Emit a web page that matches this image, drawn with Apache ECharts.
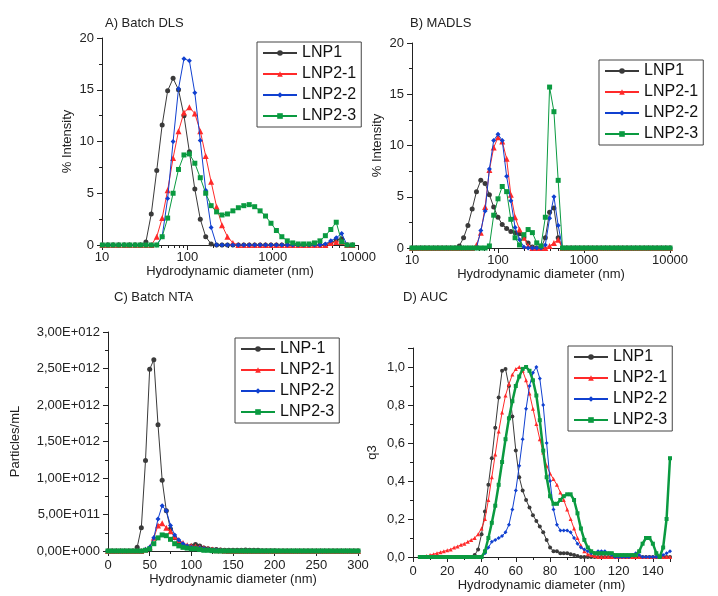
<!DOCTYPE html>
<html><head><meta charset="utf-8">
<script src="https://cdn.jsdelivr.net/npm/echarts@6/dist/echarts.min.js"></script>
<style>html,body{margin:0;padding:0;background:#fff}#c{width:718px;height:596px}</style>
</head><body><div id="c"></div>
<script>
// ---- Panel A: Batch DLS ----
const dlsX = [10.1,11.7,13.5,15.7,18.2,21.0,24.4,28.2,32.7,37.8,43.8,50.7,58.8,68.1,78.8,91.3,105.7,122.4,141.8,164.2,190.1,220.2,255,295.3,342,396.1,458.7,531.2,615.1,712.4,825,955.4,1106,1281,1484,1718,1990,2305,2669,3091,3580,4145,4801,5560,6439,7456,8635];
const dlsLNP1 = [0,0,0,0,0,0,0,0,0.3,3.0,7.2,11.6,14.9,16.1,15.0,12.5,9.0,5.4,2.5,0.8,0.1,0,0,0,0,0,0,0,0,0,0,0,0,0,0,0,0,0,0,0,0,0,0.2,0.5,0.6,0,0];
const dlsLNP21 = [0,0,0,0,0,0,0,0,0,0,0.8,2.6,5.3,8.4,11.0,12.8,13.3,12.7,11.0,8.6,6.1,3.7,1.9,0.8,0.2,0,0,0,0,0,0,0,0,0,0,0,0,0,0,0,0,0,0.2,0.3,0.3,0,0];
const dlsLNP22 = [0,0,0,0,0,0,0,0,0,0,0,0.8,4.5,10.0,15.1,18.0,17.8,14.7,10.1,5.3,1.7,0,0,0,0,0,0,0,0,0,0,0,0,0,0,0,0,0,0,0,0,0.1,0.4,0.7,1.1,0,0];
const dlsLNP23 = [0,0,0,0,0,0,0,0,0,0,0,0.8,2.6,5.0,7.3,8.7,8.8,7.9,6.5,5.0,3.8,3.2,2.9,3.0,3.3,3.6,3.8,3.9,3.7,3.3,2.8,2.1,1.4,0.8,0.4,0.2,0.1,0.1,0.1,0.2,0.4,0.9,1.5,2.2,0.3,0,0];
// ---- Panel B: MADLS ----
const madX = [10,11.2,12.6,14.1,15.8,17.8,20,22.4,25.1,28.2,31.6,35.5,39.8,44.7,50.1,56.2,63.1,70.8,79.4,89.1,100,112,126,141,158,178,200,224,251,282,316,355,398,447,501,562,631,708,794,891,1000,1122,1259,1413,1585,1778,1995,2239,2512,2818,3162,3548,3981,4467,5012,5623,6310,7079,7943,8913,10000];
const madLNP1 = [0,0,0,0,0,0,0,0,0,0,0,0.2,1.0,2.2,3.8,5.5,6.6,6.3,5.2,4.0,3.0,2.3,1.9,1.6,1.5,1.4,1.0,0.5,0.1,0,0,1.0,3.5,3.9,1.0,0,0,0,0,0,0,0,0,0,0,0,0,0,0,0,0,0,0,0,0,0,0,0,0,0,0];
const madLNP21 = [0,0,0,0,0,0,0,0,0,0,0,0,0,0,0,0.3,1.5,4.0,7.6,9.8,10.8,10.4,8.7,5.2,3.0,1.8,1.0,0.2,0,0,0,0,0.2,0.5,0.8,0,0,0,0,0,0,0,0,0,0,0,0,0,0,0,0,0,0,0,0,0,0,0,0,0,0];
const madLNP22 = [0,0,0,0,0,0,0,0,0,0,0,0,0,0,0,0,1.7,3.6,7.7,10.5,11.1,10.5,7.0,4.6,2.0,0.8,0.1,0,0,0,0,0.3,2.9,5.0,2.2,0,0,0,0,0,0,0,0,0,0,0,0,0,0,0,0,0,0,0,0,0,0,0,0,0,0];
const madLNP23 = [0,0,0,0,0,0,0,0,0,0,0,0,0,0,0,0,0,0,0.2,3.2,4.8,6.0,5.5,2.8,1.0,0.3,1.3,1.8,1.5,0.5,0.2,3.0,15.7,13.3,6.6,0,0,0,0,0,0,0,0,0,0,0,0,0,0,0,0,0,0,0,0,0,0,0,0,0,0];
// ---- Panel C: Batch NTA (particles/mL, in units of 1E+012) ----
const ntaX = [0,5,10,15,20,25,30,35,40,45,50,55,60,65,70,75,80,85,90,95,100,105,110,115,120,125,130,135,140,145,150,155,160,165,170,175,180,185,190,195,200,205,210,215,220,225,230,235,240,245,250,255,260,265,270,275,280,285,290,295,300];
const ntaLNP1 = [0,0,0,0,0,0,0,0.05,0.32,1.24,2.49,2.62,1.73,0.97,0.55,0.3,0.18,0.12,0.08,0.06,0.07,0.09,0.07,0.04,0.03,0.02,0.02,0.015,0.01,0.01,0.01,0.01,0.01,0.015,0.01,0.01,0.01,0.005,0.005,0.005,0.005,0,0,0,0,0,0,0,0,0,0,0,0,0,0,0,0,0,0,0,0];
const ntaLNP21 = [0,0,0,0,0,0,0,0,0,0.02,0.05,0.18,0.35,0.38,0.32,0.27,0.2,0.15,0.11,0.08,0.07,0.06,0.05,0.04,0.03,0.02,0.01,0.01,0.005,0,0,0,0,0,0,0,0,0,0,0,0,0,0,0,0,0,0,0,0,0,0,0,0,0,0,0,0,0,0,0,0];
const ntaLNP22 = [0,0,0,0,0,0,0,0,0,0.02,0.05,0.18,0.44,0.62,0.55,0.35,0.22,0.15,0.1,0.07,0.05,0.04,0.04,0.03,0.02,0.01,0.01,0.005,0,0,0,0,0,0,0,0,0,0,0,0,0,0,0,0,0,0,0,0,0,0,0,0,0,0,0,0,0,0,0,0,0];
const ntaLNP23 = [0,0,0,0,0,0,0,0,0,0.01,0.03,0.1,0.18,0.22,0.21,0.16,0.1,0.07,0.05,0.04,0.03,0.03,0.02,0.01,0.01,0.005,0,0,0,0,0,0,0,0,0,0,0,0,0,0,0,0,0,0,0,0,0,0,0,0,0,0,0,0,0,0,0,0,0,0,0];
// ---- Panel D: AUC ----
const aucX = [4,6,8,10,12,14,16,18,20,22,24,26,28,30,32,34,36,38,40,42,44,46,48,50,52,54,56,58,60,62,64,66,68,70,72,74,76,78,80,82,84,86,88,90,92,94,96,98,100,102,104,106,108,110,112,114,116,118,120,122,124,126,128,130,132,134,136,138,140,142,144,146,148,150];
const aucLNP1 = [0,0,0,0,0,0,0,0,0,0,0,0,0,0,0,0,0.01,0.04,0.12,0.24,0.38,0.52,0.68,0.84,0.98,0.99,0.9,0.74,0.56,0.42,0.35,0.3,0.26,0.22,0.19,0.16,0.13,0.09,0.05,0.03,0.03,0.02,0.02,0.02,0.015,0.01,0.005,0,0,0,0,0,0,0,0,0,0,0,0,0,0,0,0,0,0,0,0,0,0,0,0,0,0,0];
const aucLNP21 = [0,0,0.005,0.01,0.015,0.02,0.025,0.03,0.035,0.04,0.05,0.055,0.065,0.07,0.08,0.09,0.1,0.12,0.15,0.2,0.3,0.42,0.54,0.66,0.76,0.85,0.91,0.96,0.99,1.0,0.98,0.93,0.86,0.78,0.7,0.62,0.55,0.48,0.44,0.41,0.38,0.34,0.3,0.25,0.2,0.15,0.1,0.06,0.03,0.015,0.01,0.005,0,0,0,0,0,0,0,0,0,0,0,0,0,0,0,0,0,0,0,0,0,0];
const aucLNP22 = [0,0,0,0,0,0,0,0,0,0,0,0,0,0,0,0,0,0,0,0.02,0.05,0.08,0.09,0.1,0.11,0.13,0.17,0.25,0.35,0.48,0.62,0.78,0.9,0.97,1.0,0.94,0.8,0.6,0.4,0.25,0.17,0.14,0.14,0.14,0.13,0.1,0.07,0.05,0.04,0.03,0.02,0.02,0.03,0.03,0.03,0.02,0.01,0,0,0,0,0,0.01,0.02,0.01,0,0,0,0,0,0,0.01,0.02,0.03];
const aucLNP23 = [0,0,0,0,0,0,0,0,0,0,0,0,0,0,0,0,0,0,0,0.03,0.1,0.18,0.27,0.38,0.5,0.62,0.73,0.82,0.9,0.95,0.99,1.0,0.98,0.93,0.85,0.72,0.56,0.42,0.32,0.28,0.28,0.3,0.32,0.33,0.33,0.3,0.23,0.15,0.09,0.05,0.03,0.02,0.02,0.02,0.02,0.02,0.02,0.01,0.01,0.01,0.01,0.01,0.01,0.01,0.03,0.07,0.1,0.1,0.07,0.02,0,0.05,0.2,0.52];

const names1 = ['LNP1','LNP2-1','LNP2-2','LNP2-3'];
const namesC = ['LNP-1','LNP2-1','LNP2-2','LNP2-3'];
const colors = ['#3a3a3a','#ff2a2a','#1040d0','#0a9a40'];
const symbols = ['circle','triangle','diamond','rect'];
const FONT = 'Liberation Sans, Arial, sans-serif';

function zip(xs, ys){ return xs.map((x,i)=>[x, ys[i]]); }
function mk(name, i, xs, ys, g, opts){
  return Object.assign({
    name, type:'line', xAxisIndex:g, yAxisIndex:g, data:zip(xs,ys),
    symbol:symbols[i], symbolSize: i===1?6:5, color:colors[i],
    lineStyle:{width:1, color:colors[i]}, itemStyle:{color:colors[i]},
    animation:false, z: 2+i
  }, opts||{});
}
const axisLine = {show:true, lineStyle:{color:'#222', width:1}};
const lbl = {color:'#222', fontSize:13, fontFamily:FONT};
const nameStyle = {color:'#222', fontSize:13, fontFamily:FONT};
function commaNum(v, d){ return v.toFixed(d).replace('.', ','); }
function sciLabel(v){
  const real = v*1e12;
  if (real === 0) return '0,00E+000';
  const e = Math.floor(Math.log10(real)+1e-9);
  const m = real/Math.pow(10,e);
  return commaNum(m,2)+'E+'+String(e).padStart(3,'0');
}
function xLog(g){ return {type:'log', logBase:10, gridIndex:g, min:10, max:10000,
  axisLine, axisTick:{show:true, length:5, lineStyle:{color:'#222'}}, minorTick:{show:true, splitNumber:9, length:3, lineStyle:{color:'#222'}},
  splitLine:{show:false}, axisLabel:Object.assign({margin:6, formatter:v=>String(Math.round(v))},lbl),
  name:'Hydrodynamic diameter (nm)', nameLocation:'middle', nameGap:20, nameTextStyle:nameStyle}; }
function yPct(g){ return {type:'value', gridIndex:g, min:0, max:20, interval:5,
  axisLine, axisTick:{show:true, length:5, lineStyle:{color:'#222'}}, minorTick:{show:true, splitNumber:2, length:3, lineStyle:{color:'#222'}},
  splitLine:{show:false}, axisLabel:lbl,
  name:'% Intensity', nameLocation:'middle', nameGap:28, nameTextStyle:nameStyle}; }
function legendAt(g, left, top, data){
  return {data, left, top, orient:'vertical', itemWidth:34, itemHeight:7, itemGap:5,
    borderColor:'#444', borderWidth:1, padding:[3,5,3,5], borderRadius:0,
    textStyle:{fontSize:16, fontFamily:FONT, color:'#111', padding:[0,0,0,0]}, selectedMode:false};
}

const series = [];
[dlsLNP1,dlsLNP21,dlsLNP22,dlsLNP23].forEach((ys,i)=>series.push(mk(names1[i],i,dlsX,ys,0)));
[madLNP1,madLNP21,madLNP22,madLNP23].forEach((ys,i)=>series.push(mk(names1[i],i,madX,ys,1)));
[ntaLNP1,ntaLNP21,ntaLNP22,ntaLNP23].forEach((ys,i)=>series.push(mk(namesC[i],i,ntaX,ys,2)));
[aucLNP1,aucLNP21,aucLNP22,aucLNP23].forEach((ys,i)=>series.push(mk(names1[i],i,aucX,ys,3,
  i===3?{lineStyle:{width:2.5,color:colors[3]}, symbolSize:4}:{symbolSize:4})));

const chart = echarts.init(document.getElementById('c'), null, {renderer:'canvas'});
chart.setOption({
  backgroundColor:'#fff',
  textStyle:{fontFamily:FONT},
  title:[
    {text:'A) Batch DLS', left:100, top:12, textStyle:{fontSize:13, fontWeight:'normal', fontFamily:FONT, color:'#222'}},
    {text:'B) MADLS', left:405, top:12, textStyle:{fontSize:13, fontWeight:'normal', fontFamily:FONT, color:'#222'}},
    {text:'C) Batch NTA', left:109, top:286, textStyle:{fontSize:13, fontWeight:'normal', fontFamily:FONT, color:'#222'}},
    {text:'D) AUC', left:398, top:286, textStyle:{fontSize:13, fontWeight:'normal', fontFamily:FONT, color:'#222'}}
  ],
  grid:[
    {left:102, top:38, width:256, height:207},
    {left:412, top:43, width:258, height:205},
    {left:108, top:332, width:250, height:219},
    {left:413, top:348, width:257, height:209}
  ],
  legend:[
    legendAt(0, 257, 42, names1),
    legendAt(1, 599, 60, names1),
    legendAt(2, 235, 338, namesC),
    legendAt(3, 568, 346, names1)
  ],
  xAxis:[ xLog(0), xLog(1),
    {type:'value', gridIndex:2, min:0, max:300, interval:50, axisLine, axisTick:{show:true,length:5,lineStyle:{color:'#222'}},
     minorTick:{show:true, splitNumber:2, length:3, lineStyle:{color:'#222'}},
     splitLine:{show:false}, axisLabel:lbl, name:'Hydrodynamic diameter (nm)', nameLocation:'middle', nameGap:20, nameTextStyle:nameStyle},
    {type:'value', gridIndex:3, min:0, max:150, interval:20, axisLine, axisTick:{show:true,length:5,lineStyle:{color:'#222'}},
     minorTick:{show:true, splitNumber:2, length:3, lineStyle:{color:'#222'}},
     splitLine:{show:false}, axisLabel:Object.assign({showMaxLabel:false},lbl), name:'Hydrodynamic diameter (nm)', nameLocation:'middle', nameGap:20, nameTextStyle:nameStyle}
  ],
  yAxis:[ yPct(0), yPct(1),
    {type:'value', gridIndex:2, min:0, max:3, interval:0.5, axisLine, axisTick:{show:true,length:5,lineStyle:{color:'#222'}},
     minorTick:{show:true, splitNumber:2, length:3, lineStyle:{color:'#222'}},
     splitLine:{show:false}, axisLabel:Object.assign({formatter:sciLabel},lbl),
     name:'Particles/mL', nameLocation:'middle', nameGap:86, nameTextStyle:nameStyle},
    {type:'value', gridIndex:3, min:0, max:1.1, interval:0.2, axisLine, axisTick:{show:true,length:5,lineStyle:{color:'#222'}},
     minorTick:{show:true, splitNumber:2, length:3, lineStyle:{color:'#222'}},
     splitLine:{show:false}, axisLabel:Object.assign({showMaxLabel:false, formatter:v=>commaNum(v,1)},lbl),
     name:'q3', nameLocation:'middle', nameGap:34, nameTextStyle:nameStyle}
  ],
  series
});
</script></body></html>
